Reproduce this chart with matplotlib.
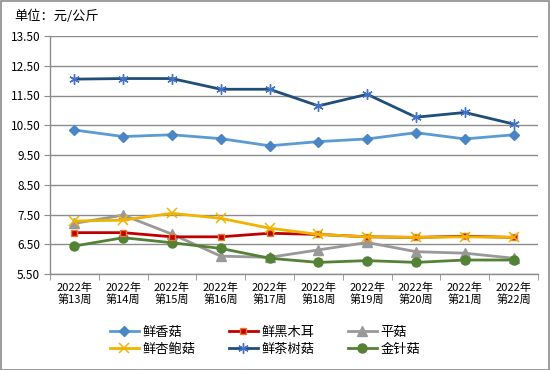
import matplotlib
matplotlib.use("Agg")
import matplotlib.pyplot as plt
from matplotlib.patches import Rectangle
import numpy as np

plt.rcParams['font.family'] = ['Noto Sans CJK SC', 'DejaVu Sans']

categories = ["2022年\n第13周", "2022年\n第14周", "2022年\n第15周", "2022年\n第16周", "2022年\n第17周",
              "2022年\n第18周", "2022年\n第19周", "2022年\n第20周", "2022年\n第21周", "2022年\n第22周"]

xianxianggu = [10.34, 10.12, 10.18, 10.05, 9.81, 9.95, 10.04, 10.25, 10.04, 10.18]
heimuer = [6.89, 6.89, 6.75, 6.75, 6.87, 6.83, 6.75, 6.73, 6.77, 6.73]
pinggu = [7.20, 7.48, 6.84, 6.10, 6.06, 6.31, 6.56, 6.25, 6.20, 6.03]
xingbaogu = [7.28, 7.31, 7.54, 7.37, 7.04, 6.83, 6.75, 6.73, 6.75, 6.73]
chashugu = [12.05, 12.07, 12.07, 11.71, 11.71, 11.15, 11.54, 10.77, 10.93, 10.54]
jinzhengu = [6.44, 6.72, 6.55, 6.36, 6.03, 5.89, 5.95, 5.89, 5.97, 5.97]

yticks = [5.5, 6.5, 7.5, 8.5, 9.5, 10.5, 11.5, 12.5, 13.5]

fig = plt.figure(figsize=(5.5, 3.7), dpi=100)
fig.patches.append(Rectangle((0.001, 0.001), 0.997, 0.996, transform=fig.transFigure,
                             fill=False, edgecolor='#8c8c8c', linewidth=1.2))
ax = fig.add_axes([50/550, 1-274/370, 488/550, 238/370])

x = np.arange(len(categories))
lw = 2.0
l1, = ax.plot(x, xianxianggu, color='#5b9bd5', lw=lw, marker='D', ms=5.5,
              mfc='#4a86c5', mec='#4a86c5', label='鲜香菇')
l2, = ax.plot(x, heimuer, color='#c00000', lw=lw, marker='s', ms=5,
              mfc='#c00000', mec='#e07b39', mew=1.0, label='鲜黑木耳')
l3, = ax.plot(x, pinggu, color='#999999', lw=lw, marker='^', ms=7,
              mfc='#999999', mec='#999999', label='平菇')
l4, = ax.plot(x, xingbaogu, color='#f0b400', lw=lw, marker='x', ms=7, mew=1.1,
              mec='#f0b400', label='鲜杏鲍菇')
l5, = ax.plot(x, chashugu, color='#1f4e79', lw=lw, marker=(6, 2, 0), ms=7.5, mew=1.0,
              mec='#4472c4', label='鲜茶树菇')
l6, = ax.plot(x, jinzhengu, color='#548235', lw=lw, marker='o', ms=6.5,
              mfc='#548235', mec='#548235', label='金针菇')
l2.set_zorder(3); l4.set_zorder(4)

ax.set_xlim(-0.5, len(categories) - 0.5)
ax.set_ylim(5.5, 13.5)
ax.set_yticks(yticks)
ax.set_yticklabels([f"{v:.2f}" for v in yticks], fontsize=8.5)
ax.set_xticks(x)
ax.set_xticklabels(categories, fontsize=8, linespacing=1.15)
ax.set_xticks(np.arange(-0.5, len(categories)), minor=True)
ax.tick_params(axis='x', which='major', length=0, pad=6)
ax.tick_params(axis='x', which='minor', length=4, color='#8c8c8c')
ax.tick_params(axis='y', length=4, color='#8c8c8c', pad=3)
ax.grid(axis='y', color='#8c8c8c', lw=1.0)
ax.set_axisbelow(True)
for s in ['top', 'right']:
    ax.spines[s].set_visible(False)
for s in ['left', 'bottom']:
    ax.spines[s].set_color('#8c8c8c')
    ax.spines[s].set_linewidth(1.0)

fig.text(14/550, 1-16/370, "单位：元/公斤", fontsize=9.5, va='center', ha='left')

handles = [l1, l4, l2, l5, l3, l6]
fig.legend(handles=handles, labels=[h.get_label() for h in handles], ncol=3,
           loc='center', bbox_to_anchor=(0.482, 1-341/370), frameon=False,
           fontsize=9.5, handlelength=2.2, handletextpad=0.3, columnspacing=2.5,
           labelspacing=0.3)

fig.savefig("out.png", dpi=100)
